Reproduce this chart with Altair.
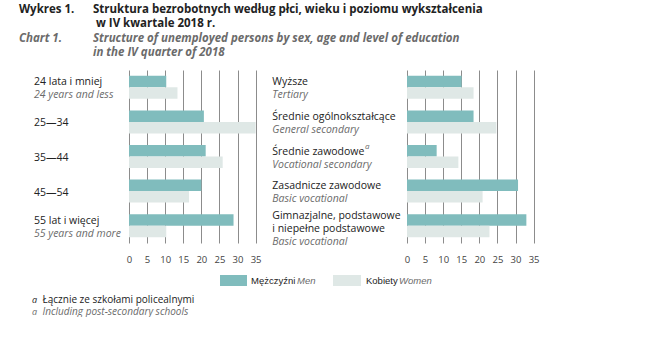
import altair as alt
import pandas as pd

# ---------------- data ----------------
age_pl = ["24 lata i mniej", "25—34", "35—44", "45—54", "55 lat i więcej"]
age_en = ["24 years and less", "", "", "", "55 years and more"]
age_men = [10.3, 20.7, 21.2, 20.0, 28.9]
age_women = [13.4, 35.0, 25.9, 16.6, 10.3]

edu_pl = ["Wyższe", "Średnie ogólnokształcące", "Średnie zawodowe",
          "Zasadnicze zawodowe", "Gimnazjalne, podstawowe\ni niepełne podstawowe"]
edu_en = ["Tertiary", "General secondary", "Vocational secondary",
          "Basic vocational", "Basic vocational"]
edu_men = [15.1, 18.4, 8.2, 30.7, 33.0]
edu_women = [18.4, 24.7, 14.2, 20.9, 22.8]

sexes = ["Mężczyźni", "Kobiety"]
ticks = [0, 5, 10, 15, 20, 25, 30, 35]

# ---------------- style ----------------
FONT = "Open Sans"
LEG_FONT = "Liberation Sans"
MEN = "#80bcbd"
WOMEN = "#dfe8e6"
DARK = "#222222"
GREY = "#6b6b6b"
PW, PH = 126.6, 173
LH = 13


def txt(text, x, y, size=11, color=DARK, style="normal", weight="normal",
        font=FONT, align="left"):
    return alt.Chart(pd.DataFrame({"t": [text]})).mark_text(
        align=align, baseline="middle", font=font, fontSize=size, color=color,
        fontStyle=style, fontWeight=weight,
    ).encode(x=alt.value(x), y=alt.value(y), text="t:N")


def yenc(cats):
    return alt.Y("cat:N", sort=cats, axis=None,
                 scale=alt.Scale(paddingInner=0.335, paddingOuter=0.1675))


def panel(pl, en, men, women, label_x, extra=None):
    cats = [p.split("\n")[0] for p in pl]
    df = pd.DataFrame({
        "cat": cats * 2,
        "sex": [sexes[0]] * len(cats) + [sexes[1]] * len(cats),
        "value": men + women,
    })
    y = yenc(cats)
    bars = alt.Chart(df).mark_bar().encode(
        x=alt.X("value:Q",
                scale=alt.Scale(domain=[0, 35], nice=False, zero=True),
                axis=alt.Axis(values=ticks, grid=True, domain=False, ticks=False,
                              title=None, labelFont=FONT, labelFontSize=9.5,
                              labelColor="#444444", labelPadding=11,
                              labelFlush=False, labelOverlap=False,
                              gridColor="#8c8c8c", gridWidth=1,
                              labelAngle=0)),
        y=y,
        yOffset=alt.YOffset("sex:N", sort=sexes,
                            scale=alt.Scale(paddingInner=0, paddingOuter=0)),
        color=alt.Color("sex:N", scale=alt.Scale(domain=sexes, range=[MEN, WOMEN]),
                        legend=None),
    )
    # one row per label line: category, text, language, vertical offset
    rows = []
    for c, p, e in zip(cats, pl, en):
        lines = [(ln, "pl") for ln in p.split("\n")]
        if e:
            lines.append((e, "en"))
        n = len(lines)
        shift = 1.5 if n < 3 else 3.5
        for i, (ln, lang) in enumerate(lines):
            rows.append({"cat": c, "t": ln, "lang": lang,
                         "off": round((i - (n - 1) / 2) * LH + shift, 2)})
    ldf = pd.DataFrame(rows)
    layers = [bars]
    for (lang, off), sub in ldf.groupby(["lang", "off"]):
        layers.append(
            alt.Chart(sub[["cat", "t"]]).mark_text(
                align="left", baseline="middle", font=FONT, fontSize=10.5,
                color=DARK if lang == "pl" else GREY,
                fontStyle="normal" if lang == "pl" else "italic", dy=off,
            ).encode(x=alt.value(label_x), y=y, text="t:N"))
    if extra is not None:
        layers += [c.encode(y=y) if isinstance(c, alt.Chart) and "cat" in c.data.columns
                   else c for c in extra]
    return alt.layer(*layers).properties(width=PW, height=PH)


# superscript "a" next to "Średnie zawodowe"
sup = alt.Chart(pd.DataFrame({"cat": ["Średnie zawodowe"], "t": ["a"]})).mark_text(
    align="left", baseline="middle", font=FONT, fontSize=8, fontStyle="italic",
    color=GREY, dy=-9.5,
).encode(x=alt.value(-42), text="t:N")

# decorations (title, legend, footnote), positioned relative to the left plot area
deco = [
    txt("Wykres 1.", -110, -60, size=11.5, weight="bold"),
    txt("Struktura bezrobotnych według płci, wieku i poziomu wykształcenia",
        -36, -60, size=11.5, weight="bold"),
    txt("w IV kwartale 2018 r.", -33, -46, size=11.5, weight="bold"),
    txt("Chart 1.", -110, -31, size=11.5, weight="bold", style="italic", color=GREY),
    txt("Structure of unemployed persons by sex, age and level of education",
        -36, -31, size=11.5, weight="bold", style="italic", color=GREY),
    txt("in the IV quarter of 2018", -36, -17, size=11.5, weight="bold",
        style="italic", color=GREY),
    alt.Chart(pd.DataFrame({"k": [0]})).mark_rect(color=MEN).encode(
        x=alt.value(91), x2=alt.value(118), y=alt.value(205), y2=alt.value(216)),
    alt.Chart(pd.DataFrame({"k": [0]})).mark_rect(color=WOMEN).encode(
        x=alt.value(204), x2=alt.value(232), y=alt.value(205), y2=alt.value(216)),
    txt("Mężczyźni", 122, 211, size=9.5, font=LEG_FONT),
    txt("Men", 168, 211, size=9.5, font=LEG_FONT, style="italic", color=GREY),
    txt("Kobiety", 237, 211, size=9.5, font=LEG_FONT),
    txt("Women", 270, 211, size=9.5, font=LEG_FONT, style="italic", color=GREY),
    txt("a", -97, 230, size=9, style="italic", color=DARK),
    txt("Łącznie ze szkołami policealnymi", -86.5, 230, size=10),
    txt("a", -97, 242, size=9, style="italic", color=GREY),
    txt("Including post-secondary schools", -86.5, 242, size=10,
        style="italic", color=GREY),
]

left = panel(age_pl, age_en, age_men, age_women, -95, extra=deco)
right = panel(edu_pl, edu_en, edu_men, edu_women, -134.7, extra=[sup])

chart = alt.hconcat(left, right, spacing=151, bounds="flush").properties(
    padding={"left": 19, "top": 4, "right": 0, "bottom": 0},
    background="white",
).configure_view(stroke=None)

chart.save("out.html", embed_options={"renderer": "svg", "actions": False})
